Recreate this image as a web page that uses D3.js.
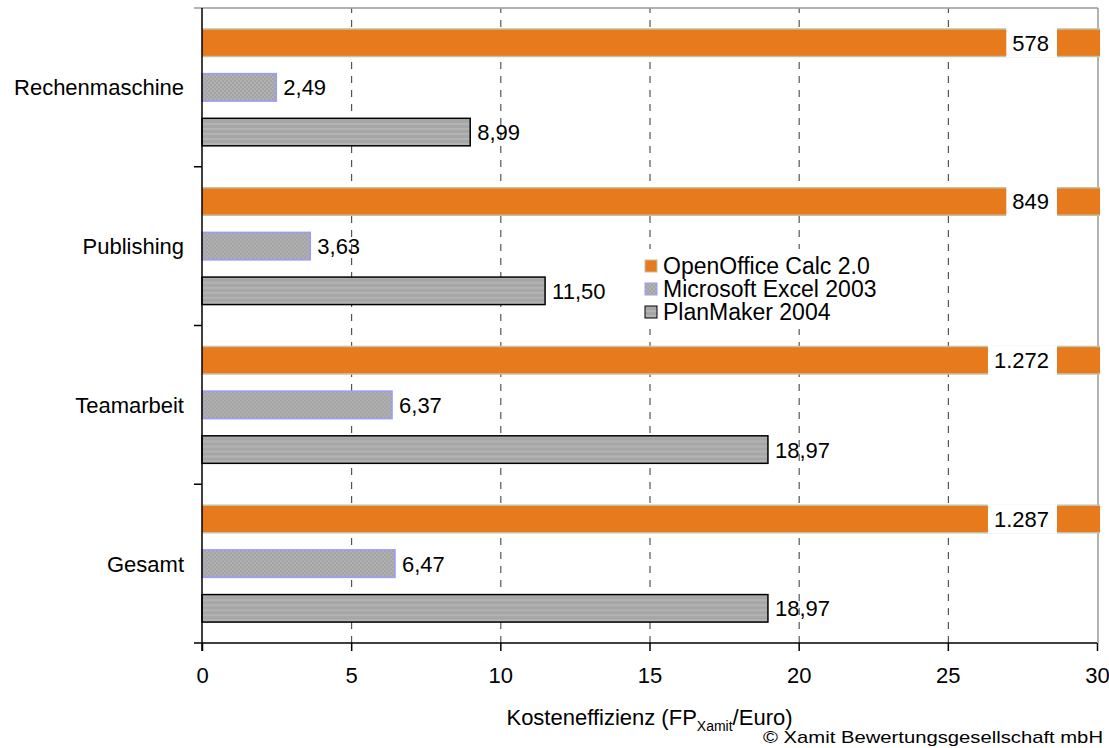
<!DOCTYPE html>
<meta charset="utf-8" />
<style>
  body {
    margin: 0;
    background: #fff;
    font-family: "Liberation Sans", Arial, sans-serif;
  }
  text {
    fill: #000;
  }
  .grid line {
    stroke: #333;
    stroke-dasharray: 7, 7;
  }
  .grid .domain {
    display: none;
  }
</style>
<body>
  <div class="container"></div>

  <script src="https://d3js.org/d3.v7.min.js"></script>
  <script>
    var categories = ["Rechenmaschine", "Publishing", "Teamarbeit", "Gesamt"];
    var seriesNames = ["OpenOffice Calc 2.0", "Microsoft Excel 2003", "PlanMaker 2004"];
    var calcValues = [578, 849, 1272, 1287];
    var excelValues = [2.49, 3.63, 6.37, 6.47];
    var planValues = [8.99, 11.5, 18.97, 18.97];
    var xTicks = [0, 5, 10, 15, 20, 25, 30];

    var de = d3.formatLocale({ decimal: ",", thousands: ".", grouping: [3], currency: ["", " €"] });
    var fmtDec = de.format(",.2f");
    var fmtInt = de.format(",d");

    var width = 1109, height = 748;
    var plotLeft = 202, plotRight = 1097, plotTop = 8, plotBottom = 643;
    var fs = 22;

    var svg = d3
      .select(".container")
      .append("svg")
      .attr("width", width)
      .attr("height", height);

    // patterns for the two grey bars
    var defs = svg.append("defs");
    var pc = defs.append("pattern").attr("id", "checks")
      .attr("width", 4).attr("height", 4).attr("patternUnits", "userSpaceOnUse");
    pc.append("rect").attr("width", 4).attr("height", 4).attr("fill", "#a3a3a3");
    pc.append("rect").attr("width", 2).attr("height", 2).attr("fill", "#b1b1b1");
    pc.append("rect").attr("x", 2).attr("y", 2).attr("width", 2).attr("height", 2).attr("fill", "#b1b1b1");

    var ps = defs.append("pattern").attr("id", "stripes")
      .attr("width", 4).attr("height", 5).attr("patternUnits", "userSpaceOnUse");
    ps.append("rect").attr("width", 4).attr("height", 5).attr("fill", "#a6a6a6");
    ps.append("rect").attr("y", 0).attr("width", 4).attr("height", 2).attr("fill", "#b3b3b3");

    var x = d3.scaleLinear().domain([0, 30]).range([plotLeft, plotRight]);
    var y = d3.scaleBand().domain(categories).range([plotTop, plotBottom]);
    var inner = d3.scaleBand().domain(seriesNames).range([0, y.bandwidth()])
      .paddingInner(0.385).paddingOuter(0.468);

    // dashed gridlines
    svg.append("g")
      .attr("class", "grid")
      .attr("transform", "translate(0," + plotBottom + ")")
      .call(d3.axisBottom(x).tickValues([5, 10, 15, 20, 25]).tickSize(-(plotBottom - plotTop)).tickFormat(""));

    // top and right frame
    svg.append("line").attr("x1", plotLeft - 8).attr("x2", plotRight + 1).attr("y1", plotTop).attr("y2", plotTop)
      .attr("stroke", "#999").attr("stroke-width", 1.5);
    svg.append("line").attr("x1", plotRight + 1).attr("x2", plotRight + 1).attr("y1", plotTop).attr("y2", plotBottom)
      .attr("stroke", "#999").attr("stroke-width", 1.5);

    // bars
    categories.forEach(function (c, i) {
      var g = svg.append("g").attr("transform", "translate(0," + y(c) + ")");
      var bh = inner.bandwidth();

      // OpenOffice: off the scale, drawn broken with the value inside
      var yc = inner(seriesNames[0]);
      g.append("rect")
        .attr("x", x(0)).attr("y", yc)
        .attr("width", x(30) + 3 - x(0)).attr("height", bh)
        .attr("fill", "#e67a1c");
      g.append("line").attr("x1", x(0)).attr("x2", x(30) + 3).attr("y1", yc).attr("y2", yc)
        .attr("stroke", "#c2c2a6").attr("stroke-width", 1.5);
      g.append("line").attr("x1", x(0)).attr("x2", x(30) + 3).attr("y1", yc + bh).attr("y2", yc + bh)
        .attr("stroke", "#c2c2a6").attr("stroke-width", 1.5);
      var box = g.append("rect").attr("fill", "#fff");
      var t = g.append("text")
        .attr("x", x(30) - 48).attr("y", yc + bh / 2)
        .attr("dy", "0.36em")
        .attr("text-anchor", "end")
        .attr("font-size", fs)
        .text(fmtInt(calcValues[i]));
      var bb = t.node().getBBox();
      box.attr("x", bb.x - 6).attr("y", yc - 1).attr("width", x(30) - 40 - (bb.x - 6)).attr("height", bh + 2);

      // Excel
      var ye = inner(seriesNames[1]);
      g.append("rect")
        .attr("x", x(0)).attr("y", ye)
        .attr("width", x(excelValues[i]) - x(0)).attr("height", bh)
        .attr("fill", "url(#checks)")
        .attr("stroke", "#9a9aff").attr("stroke-width", 1.5);
      g.append("text")
        .attr("x", x(excelValues[i]) + 7).attr("y", ye + bh / 2)
        .attr("dy", "0.36em")
        .attr("font-size", fs)
        .text(fmtDec(excelValues[i]));

      // PlanMaker
      var yp = inner(seriesNames[2]);
      g.append("rect")
        .attr("x", x(0)).attr("y", yp)
        .attr("width", x(planValues[i]) - x(0)).attr("height", bh)
        .attr("fill", "url(#stripes)")
        .attr("stroke", "#000").attr("stroke-width", 1.5);
      g.append("text")
        .attr("x", x(planValues[i]) + 7).attr("y", yp + bh / 2)
        .attr("dy", "0.36em")
        .attr("font-size", fs)
        .text(fmtDec(planValues[i]));
    });

    // x axis
    var xAxis = svg.append("g")
      .attr("transform", "translate(0," + plotBottom + ")")
      .call(d3.axisBottom(x).tickValues(xTicks).tickSize(8).tickPadding(16).tickSizeOuter(0));
    xAxis.select(".domain").attr("stroke-width", 1.5).attr("d", "M" + (plotLeft - 8) + ",0H" + plotRight);
    xAxis.selectAll(".tick line").attr("stroke-width", 1.5);
    xAxis.selectAll("text").attr("font-size", fs).attr("font-family", "Liberation Sans, Arial");

    // y axis: ticks at group boundaries
    svg.append("line").attr("x1", plotLeft).attr("x2", plotLeft).attr("y1", plotTop).attr("y2", plotBottom + 8)
      .attr("stroke", "#000").attr("stroke-width", 1.5);
    categories.slice(1).forEach(function (c) {
      svg.append("line").attr("x1", plotLeft - 8).attr("x2", plotLeft).attr("y1", y(c)).attr("y2", y(c))
        .attr("stroke", "#000").attr("stroke-width", 1.5);
    });
    svg.selectAll(".cat")
      .data(categories)
      .enter()
      .append("text")
      .attr("class", "cat")
      .attr("x", plotLeft - 18)
      .attr("y", function (d) { return y(d) + y.bandwidth() / 2; })
      .attr("dy", "0.36em")
      .attr("text-anchor", "end")
      .attr("font-size", fs)
      .text(function (d) { return d; });

    // axis title
    var title = svg.append("text")
      .attr("x", (plotLeft + plotRight) / 2)
      .attr("y", 725)
      .attr("text-anchor", "middle")
      .attr("font-size", fs);
    title.append("tspan").text("Kosteneffizienz (FP");
    title.append("tspan").attr("font-size", 14).attr("dy", 6).text("Xamit");
    title.append("tspan").attr("dy", -6).text("/Euro)");

    svg.append("text")
      .attr("x", 1103).attr("y", 743)
      .attr("text-anchor", "end")
      .attr("font-size", 17)
      .attr("textLength", 340)
      .attr("lengthAdjust", "spacingAndGlyphs")
      .text("\u00a9 Xamit Bewertungsgesellschaft mbH");

    // legend (white box hides the gridlines behind it)
    var legendFill = ["#e67a1c", "url(#checks)", "url(#stripes)"];
    var legendStroke = ["#c2c2a6", "#9a9aff", "#000"];
    var lg = svg.append("g").attr("transform", "translate(645,260)");
    lg.append("rect")
      .attr("x", -6).attr("y", -11)
      .attr("width", 252).attr("height", 80)
      .attr("fill", "#fff");
    seriesNames.forEach(function (s, i) {
      lg.append("rect")
        .attr("x", 0).attr("y", i * 23)
        .attr("width", 12).attr("height", 12)
        .attr("fill", legendFill[i])
        .attr("stroke", legendStroke[i]).attr("stroke-width", 1);
      lg.append("text")
        .attr("x", 18).attr("y", i * 23 + 6)
        .attr("dy", "0.36em")
        .attr("font-size", 23)
        .text(s);
    });
  </script>
</body>
